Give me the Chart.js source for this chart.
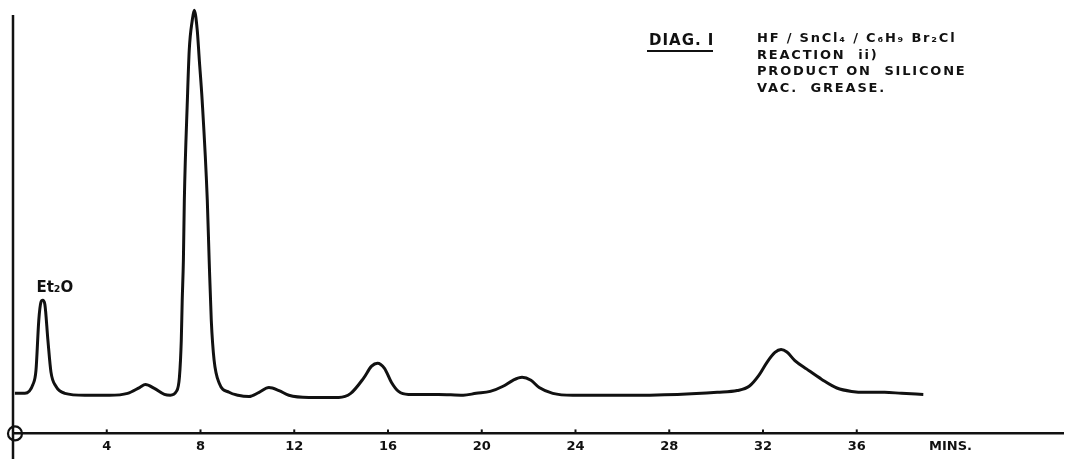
<!DOCTYPE html>
<html>
<head>
<meta charset="utf-8">
<script src="https://cdn.jsdelivr.net/npm/chart.js@4.4.1/dist/chart.umd.min.js"></script>
<style>
  html, body { margin: 0; padding: 0; background: #fff; }
  #wrap { width: 1068px; height: 459px; position: relative; }
</style>
</head>
<body>
<div id="wrap"><canvas id="chromChart"></canvas></div>
<script>
// retention time (mins)
const timeMin = [
  0.08, 0.51, 0.85, 0.98, 1.10, 1.19, 1.27, 1.36, 1.49, 1.62, 1.83, 2.21,
  3.06, 4.12, 4.89, 5.40, 5.65, 6.03, 6.46, 6.71, 6.97, 7.10, 7.18, 7.22,
  7.27, 7.31, 7.44, 7.52, 7.65, 7.73, 7.86, 7.95, 8.07, 8.29, 8.37, 8.46,
  8.58, 8.80, 9.22, 9.60, 10.07, 10.50, 10.92, 11.35, 11.77, 12.62, 13.90,
  14.41, 14.96, 15.30, 15.55, 15.85, 16.15, 16.45, 16.87, 18.15, 19.21,
  19.76, 20.36, 20.91, 21.33, 21.72, 22.10, 22.45, 23.03, 23.88, 25.80,
  28.35, 30.05, 30.90, 31.41, 31.83, 32.17, 32.51, 32.77, 33.02, 33.36,
  33.87, 34.51, 35.15, 35.78, 36.42, 37.19, 37.91, 38.84
];

// detector response (arbitrary units, axis = 0)
const signal = [
  9.35, 9.35, 11.4, 14.7, 26.4, 30.6, 31.1, 30.1, 21.7, 14.3, 11.0, 9.35,
  8.9, 8.9, 9.35, 10.7, 11.4, 10.5, 9.1, 8.9, 9.8, 13.1, 21.7, 31.1,
  40.4, 54.4, 77.8, 89.5, 96.5, 98.8, 94.2, 87.1, 77.8, 54.4, 40.4, 26.4,
  17.1, 11.7, 9.6, 8.9, 8.6, 9.6, 10.7, 10.0, 8.9, 8.4, 8.4,
  9.35, 12.9, 15.7, 16.4, 15.2, 11.9, 9.8, 9.1, 9.1, 8.9,
  9.35, 9.8, 11.0, 12.4, 13.1, 12.4, 10.7, 9.35, 8.9, 8.9,
  9.1, 9.6, 10.0, 11.0, 13.6, 16.6, 18.9, 19.6, 19.0, 17.0,
  15.0, 12.6, 10.6, 9.8, 9.6, 9.6, 9.35, 9.1
];

// tick labels on the time axis
const tickValues = [4, 8, 12, 16, 20, 24, 28, 32, 36];
const unitLabel = "MINS.";
const peakLabel = { t: 1.27, v: 31.1, text: "Et\u2082O" };

// header text
const diagTitle = "DIAG. I";
const noteLines = [
  "HF / SnCl\u2084 / C\u2086H\u2089 Br\u2082Cl",
  "REACTION  ii)",
  "PRODUCT ON  SILICONE",
  "VAC.  GREASE."
];

const ink = "#111";
const handFont = "'DejaVu Sans', sans-serif";

const points = timeMin.map((t, i) => ({ x: t, y: signal[i] }));

// draws the hand-drawn style axis bits and the notes
const paperPlugin = {
  id: "paper",
  afterDraw(chart) {
    const { ctx, chartArea, scales } = chart;
    const xs = scales.x;
    const ys = scales.y;
    ctx.save();
    ctx.strokeStyle = ink;
    ctx.fillStyle = ink;

    // vertical axis
    ctx.lineWidth = 2.5;
    ctx.beginPath();
    ctx.moveTo(chartArea.left, 15);
    ctx.lineTo(chartArea.left, chart.height);
    ctx.stroke();

    // origin circle
    ctx.lineWidth = 2.2;
    ctx.beginPath();
    ctx.arc(chartArea.left + 2, chartArea.bottom, 7, 0, Math.PI * 2);
    ctx.stroke();

    // little upward tick marks
    ctx.lineWidth = 2;
    tickValues.forEach((v) => {
      const px = xs.getPixelForValue(v);
      ctx.beginPath();
      ctx.moveTo(px, chartArea.bottom);
      ctx.lineTo(px, chartArea.bottom - 4);
      ctx.stroke();
    });

    // peak label
    ctx.font = "bold 15px " + handFont;
    ctx.textAlign = "center";
    ctx.textBaseline = "bottom";
    ctx.fillText(
      peakLabel.text,
      xs.getPixelForValue(peakLabel.t) + 12,
      ys.getPixelForValue(peakLabel.v) - 5
    );

    // diagram title, underlined
    ctx.font = "bold 15px " + handFont;
    ctx.textAlign = "left";
    ctx.textBaseline = "alphabetic";
    ctx.letterSpacing = "1px";
    ctx.fillText(diagTitle, 649, 45);
    ctx.lineWidth = 2;
    ctx.beginPath();
    ctx.moveTo(647, 51);
    ctx.lineTo(713, 51);
    ctx.stroke();

    // notes block
    ctx.font = "bold 13px " + handFont;
    ctx.letterSpacing = "1.8px";
    noteLines.forEach((line, i) => {
      ctx.fillText(line, 757, 42 + i * 16.5);
    });

    ctx.restore();
  },
};

new Chart(document.getElementById("chromChart"), {
  type: "line",
  data: {
    datasets: [
      {
        data: points,
        borderColor: ink,
        borderWidth: 3,
        pointRadius: 0,
        fill: false,
        cubicInterpolationMode: "monotone",
      },
    ],
  },
  options: {
    responsive: true,
    maintainAspectRatio: false,
    animation: false,
    layout: {
      padding: { left: 13, right: 0, top: 5, bottom: 0 },
    },
    plugins: {
      legend: { display: false },
      tooltip: { enabled: false },
    },
    scales: {
      x: {
        type: "linear",
        min: 0,
        max: 44.8,
        grid: { display: false, drawTicks: false },
        border: { display: true, color: ink, width: 2.5 },
        ticks: {
          stepSize: 4,
          autoSkip: false,
          maxRotation: 0,
          padding: 5,
          color: ink,
          font: { family: handFont, size: 13, weight: "bold" },
          callback: (value) => {
            if (tickValues.includes(value)) return String(value);
            if (value === 40) return unitLabel;
            return "";
          },
        },
      },
      y: {
        display: false,
        min: 0,
        max: 100,
      },
    },
  },
  plugins: [paperPlugin],
});
</script>
</body>
</html>
